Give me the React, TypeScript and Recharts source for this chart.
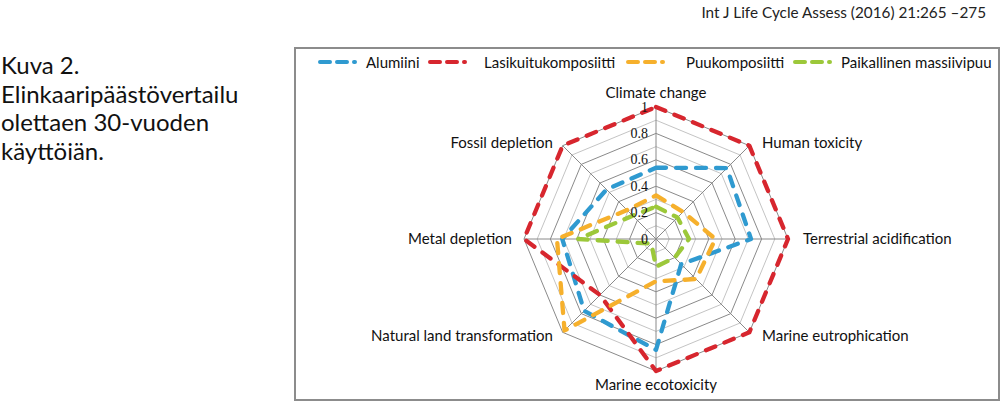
import React from 'react';
import { RadarChart, Radar, PolarGrid, PolarAngleAxis, PolarRadiusAxis } from 'recharts';

const categories = [
  'Climate change',
  'Human toxicity',
  'Terrestrial acidification',
  'Marine eutrophication',
  'Marine ecotoxicity',
  'Natural land transformation',
  'Metal depletion',
  'Fossil depletion',
];
const alumiini = [0.54, 0.76, 0.72, 0.27, 0.84, 0.77, 0.71, 0.53];
const lasikuitukomposiitti = [1, 1, 1, 1, 1, 0.6, 1, 1];
const puukomposiitti = [0.33, 0.29, 0.45, 0.43, 0.32, 0.98, 0.75, 0.31];
const paikallinen = [0.245, 0.23, 0.25, 0.2, 0.21, 0.05, 0.59, 0.25];

const majorTicks = [0, 0.2, 0.4, 0.6, 0.8, 1];
const minorTicks = [0.1, 0.3, 0.5, 0.7, 0.9];

const seriesNames = ['Alumiini', 'Lasikuitukomposiitti', 'Puukomposiitti', 'Paikallinen massiivipuu'];
const seriesKeys = ['alu', 'lasi', 'puu', 'paik'];
const seriesColors = ['#2f9ad0', '#d7262e', '#f6b02c', '#9cc83a'];
const seriesValues = [alumiini, lasikuitukomposiitti, puukomposiitti, paikallinen];

const captionLines = ['Kuva 2.', 'Elinkaaripäästövertailu', 'olettaen 30-vuoden', 'käyttöiän.'];
const headerText = 'Int J Life Cycle Assess (2016) 21:265 \u2013275';

const data = categories.map((c, i) => {
  const row: any = { category: c };
  seriesKeys.forEach((k, s) => {
    row[k] = seriesValues[s][i];
  });
  return row;
});

const CX = 656;
const CY = 239;
const OUTER = 132;
const DOMAIN_MAX = 1;
const SANS = 'Lato, "Noto Sans", sans-serif';

const AngleTick = (props: any) => {
  const { x, y, payload, textAnchor } = props;
  let dx = 0;
  let dy = 0;
  if (textAnchor === 'start') dx = 7;
  else if (textAnchor === 'end') dx = -4;
  if (textAnchor === 'middle') dy = y < CY ? -7 : 5;
  else if (Math.abs(y - CY) < 2) dy = -1;
  else dy = y < CY ? 2 : -3;
  return (
    <text
      x={x + dx}
      y={y + dy}
      textAnchor={textAnchor}
      dominantBaseline="central"
      fontFamily={SANS}
      fontSize={15}
      fill="#111"
    >
      {payload.value}
    </text>
  );
};

const RadiusTick = (props: any) => {
  const { x, y, payload } = props;
  return (
    <text
      x={x - 8}
      y={y}
      textAnchor="end"
      dominantBaseline="central"
      fontFamily='"Liberation Serif", "Times New Roman", serif'
      fontSize={14}
      fill="#111"
    >
      {String(payload.value)}
    </text>
  );
};

const legendLefts = [318, 428, 626, 793];
const legendTextGap = [2, 10, 14, 2];

export default function App() {
  const toRadius = (t: number) => (t / DOMAIN_MAX) * OUTER;
  return (
    <div style={{ position: 'relative', width: 1000, height: 401, background: '#fff', overflow: 'hidden' }}>
      <style>{'body{margin:0}'}</style>
      <div
        style={{
          position: 'absolute',
          right: 14,
          top: 3,
          fontFamily: SANS,
          fontSize: 15.3,
          color: '#222',
          whiteSpace: 'nowrap',
        }}
      >
        {headerText}
      </div>
      <div
        style={{
          position: 'absolute',
          left: 1,
          top: 51,
          fontFamily: SANS,
          fontSize: 24,
          lineHeight: '28.7px',
          color: '#111',
          whiteSpace: 'nowrap',
        }}
      >
        {captionLines.map((l) => (
          <div key={l}>{l}</div>
        ))}
      </div>
      <div
        style={{
          position: 'absolute',
          left: 294,
          top: 47,
          width: 702,
          height: 350,
          border: '2px solid #8c8c8c',
        }}
      />
      <div style={{ position: 'absolute', left: 0, top: 0 }}>
        <RadarChart
          width={1000}
          height={401}
          data={data}
          cx={CX}
          cy={CY}
          outerRadius={OUTER}
          margin={{ top: 0, right: 0, bottom: 0, left: 0 }}
        >
          <PolarGrid
            gridType="polygon"
            radialLines={false}
            polarRadius={minorTicks.map(toRadius)}
            stroke="#c4c4c4"
            strokeWidth={1}
          />
          <PolarGrid
            gridType="polygon"
            radialLines={true}
            polarRadius={majorTicks.map(toRadius)}
            stroke="#8a8a8a"
            strokeWidth={1}
          />
          <PolarAngleAxis dataKey="category" tick={<AngleTick />} tickLine={false} axisLine={false} />
          <PolarRadiusAxis
            angle={90}
            domain={[0, DOMAIN_MAX]}
            ticks={majorTicks as any}
            tickCount={6}
            tick={<RadiusTick />}
            axisLine={false}
            tickLine={false}
          />
          {seriesKeys.map((k, s) => (
            <Radar
              key={k}
              name={seriesNames[s]}
              dataKey={k}
              stroke={seriesColors[s]}
              strokeWidth={4.3}
              strokeDasharray="10 10"
              strokeLinecap="round"
              strokeLinejoin="round"
              fill="none"
              fillOpacity={0}
              dot={false}
              isAnimationActive={false}
            />
          ))}
        </RadarChart>
      </div>
      {seriesNames.map((n, s) => (
        <div
          key={n}
          style={{
            position: 'absolute',
            left: legendLefts[s],
            top: 53,
            height: 18,
            display: 'flex',
            alignItems: 'center',
            fontFamily: SANS,
            fontSize: 15,
            color: '#111',
            whiteSpace: 'nowrap',
          }}
        >
          <svg width={46} height={10} style={{ display: 'block' }}>
            <line
              x1={2}
              y1={5}
              x2={44}
              y2={5}
              stroke={seriesColors[s]}
              strokeWidth={4}
              strokeLinecap="round"
              strokeDasharray="10 7 10 7 1 20"
            />
          </svg>
          <span style={{ marginLeft: legendTextGap[s] }}>{n}</span>
        </div>
      ))}
    </div>
  );
}
